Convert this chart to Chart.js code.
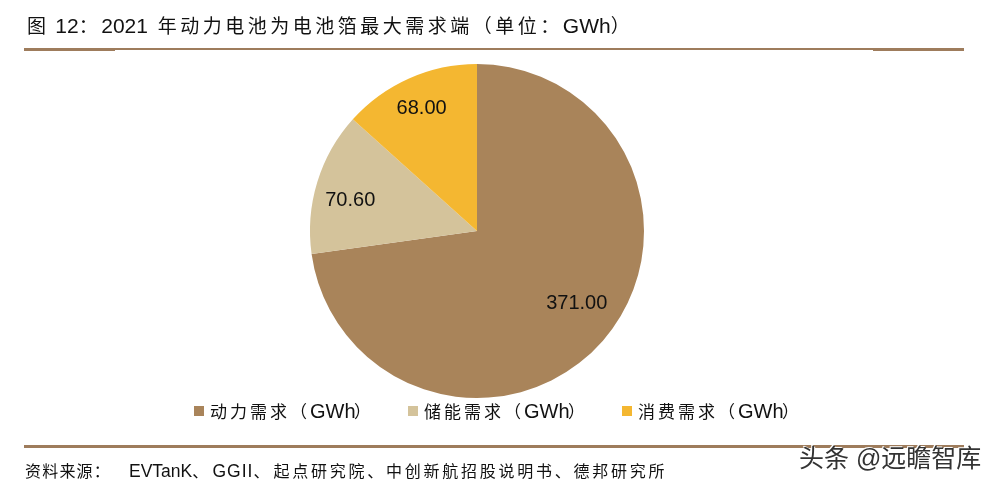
<!DOCTYPE html>
<html lang="zh">
<head>
<meta charset="UTF-8">
<title>图 12</title>
<script src="https://cdn.jsdelivr.net/npm/chart.js"></script>
<style>
    html, body { margin: 0; padding: 0; background: #fff; }
    body { width: 997px; height: 484px; position: relative; overflow: hidden; font-family: "Liberation Sans", "Noto Sans CJK SC", sans-serif; color: #111; }
    #wrap { position: absolute; left: 0; top: 0; width: 997px; height: 484px; }
    .abs { position: absolute; white-space: nowrap; }
    #title { left: 27px; top: 13px; font-size: 21px; line-height: 26px; }
    #title b { font-weight: normal; font-size: 19px; letter-spacing: 3.5px; }
    #source { left: 25px; top: 461px; font-size: 17.5px; line-height: 20px; }
    #source b { font-weight: normal; font-size: 16px; letter-spacing: 1.2px; }
    #source b.wide { letter-spacing: 2.75px; margin-left: 3px; }
    #source span { letter-spacing: 1px; margin-left: 3px; }
    .rule { position: absolute; background: #9e7c5c; }
    #legend { left: 0; top: 399px; font-size: 20px; line-height: 24px; }
    #legend span.item { position: absolute; top: 0; white-space: nowrap; }
    #legend span.item b { font-weight: normal; font-size: 17px; letter-spacing: 3px; }
    #legend span.item b.end { margin-left: -1.7px; }
    #legend i { position: absolute; top: 7px; width: 10px; height: 10px; }
    #mark { left: 799px; top: 444px; font-size: 25px; line-height: 28px; color: #333; text-shadow: 1px 1px 0 #fff, -1px -1px 0 #fff; }
</style>
</head>
<body>
<div id="wrap"><canvas id="pie" width="997" height="484"></canvas></div>
<div class="abs" id="title"><b>图</b> 12<b>：</b>2021 <b style="margin-left:4px">年动力电池为电池箔最大需求端（单位：</b>GWh<b>）</b></div>
<div class="rule" style="left:24px;top:48px;width:940px;height:2px"></div>
<div class="rule" style="left:24px;top:48px;width:91px;height:3px"></div>
<div class="rule" style="left:873px;top:48px;width:91px;height:3px"></div>
<div class="abs" id="legend"></div>
<div class="rule" style="left:24px;top:445px;width:940px;height:3px"></div>
<div class="abs" id="source"><b style="margin-right:18px">资料来源：</b>EVTanK<b>、</b><span>GGII</span><b>、</b><b class="wide">起点研究院、中创新航招股说明书、德邦研究所</b></div>
<div class="abs" id="mark">头条 @远瞻智库</div>
<script>
    // Données
    var categories = ['动力需求', '储能需求', '消费需求'];
    var unit = 'GWh';
    var values = [371.00, 70.60, 68.00];
    var valueLabels = ['371.00', '70.60', '68.00'];
    var colors = ['#a9845a', '#d4c39b', '#f4b731'];
    var legendLeft = [194, 408, 622];

    // Légende
    var legend = document.getElementById('legend');
    categories.forEach(function (name, i) {
        var box = document.createElement('i');
        box.style.left = legendLeft[i] + 'px';
        box.style.background = colors[i];
        legend.appendChild(box);
        var item = document.createElement('span');
        item.className = 'item';
        item.style.left = (legendLeft[i] + 16) + 'px';
        item.innerHTML = '<b>' + name + '（</b>' + unit + '<b class="end">）</b>';
        legend.appendChild(item);
    });

    // Étiquettes de valeur : à 80 % du rayon, avec un petit décalage par secteur
    var labelNudge = [[-1, -15], [1, 9], [-1, 0]];
    var sliceLabels = {
        id: 'sliceLabels',
        afterDatasetsDraw: function (chart) {
            var ctx = chart.ctx;
            ctx.save();
            ctx.font = '20px "Liberation Sans"';
            ctx.fillStyle = '#111';
            ctx.textAlign = 'center';
            ctx.textBaseline = 'middle';
            chart.getDatasetMeta(0).data.forEach(function (arc, i) {
                var mid = (arc.startAngle + arc.endAngle) / 2;
                var r = arc.outerRadius * 0.8;
                ctx.fillText(valueLabels[i],
                    arc.x + Math.cos(mid) * r + labelNudge[i][0],
                    arc.y + Math.sin(mid) * r + labelNudge[i][1]);
            });
            ctx.restore();
        }
    };

    new Chart(document.getElementById('pie'), {
        type: 'pie',
        data: {
            labels: categories,
            datasets: [{ data: values, backgroundColor: colors, borderWidth: 0 }]
        },
        options: {
            responsive: false,
            animation: false,
            layout: { padding: { top: 64, bottom: 86, left: 0, right: 43 } },
            plugins: { legend: { display: false }, tooltip: { enabled: false } }
        },
        plugins: [sliceLabels]
    });
</script>
</body>
</html>
